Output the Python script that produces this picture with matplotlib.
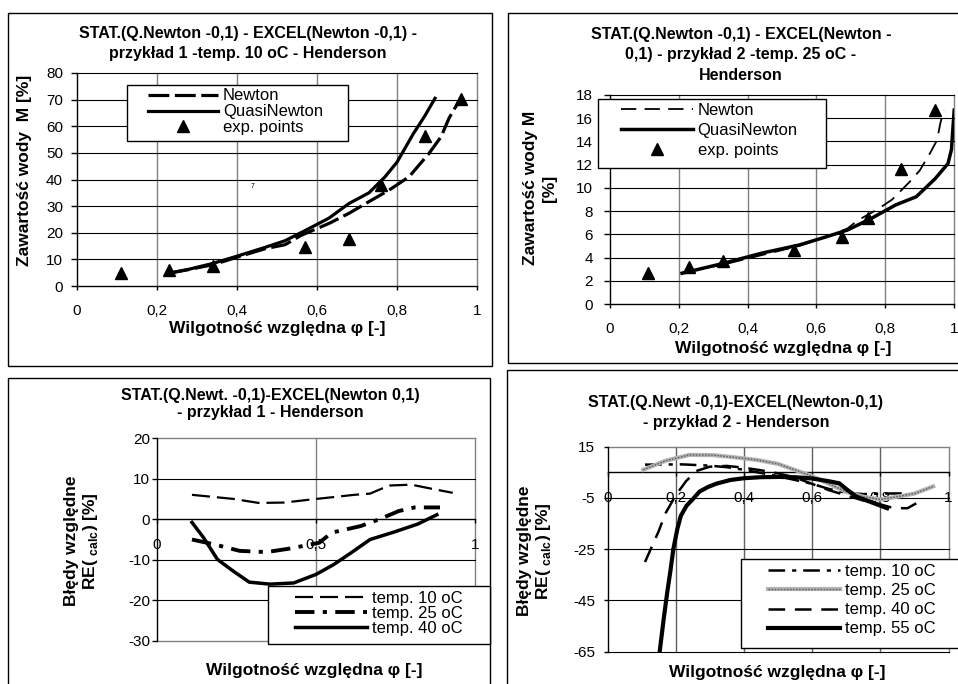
import matplotlib
matplotlib.use('Agg')
import matplotlib.pyplot as plt
from matplotlib.patches import Rectangle
from matplotlib.lines import Line2D
from matplotlib.legend_handler import HandlerTuple

plt.rcParams['font.family'] = ['Liberation Sans', 'DejaVu Sans']
plt.rcParams['mathtext.fontset'] = 'custom'
plt.rcParams['mathtext.rm'] = 'Liberation Sans'
plt.rcParams['lines.scale_dashes'] = False

# ---------------- data ----------------
# Panel 1: temp 10 oC, example 1
p1_exp_phi = [0.11, 0.23, 0.34, 0.57, 0.68, 0.76, 0.87, 0.96]
p1_exp_M = [4.8, 6.0, 7.6, 14.8, 17.5, 37.9, 56.5, 70.3]
p1_qn_phi = [0.23, 0.28, 0.34, 0.40, 0.47, 0.52, 0.57, 0.63, 0.68, 0.73, 0.77, 0.80, 0.84, 0.87, 0.895]
p1_qn_M = [4.8, 6.3, 8.5, 11.2, 14.5, 17.0, 20.8, 25.5, 31.0, 35.0, 41.0, 46.5, 57.0, 64.0, 70.5]
p1_nw_phi = [0.23, 0.28, 0.34, 0.40, 0.47, 0.52, 0.56, 0.63, 0.68, 0.73, 0.78, 0.83, 0.88, 0.91, 0.93, 0.955]
p1_nw_M = [4.8, 6.2, 8.0, 10.8, 14.0, 15.5, 19.0, 23.5, 27.3, 31.7, 36.0, 41.0, 49.8, 56.0, 63.0, 69.5]

# Panel 2: temp 25 oC, example 2
p2_exp_phi = [0.11, 0.23, 0.33, 0.535, 0.675, 0.75, 0.845, 0.945]
p2_exp_M = [2.64, 3.21, 3.73, 4.65, 5.74, 7.38, 11.6, 16.7]
p2_qn_phi = [0.21, 0.33, 0.44, 0.55, 0.63, 0.69, 0.76, 0.83, 0.89, 0.945, 0.982, 0.992, 1.0]
p2_qn_M = [2.65, 3.5, 4.37, 5.08, 5.8, 6.37, 7.38, 8.53, 9.24, 10.8, 12.1, 13.3, 16.7]
p2_nw_phi = [0.21, 0.33, 0.44, 0.55, 0.63, 0.69, 0.72, 0.78, 0.82, 0.87, 0.90, 0.93, 0.95, 0.96, 0.97]
p2_nw_M = [2.7, 3.4, 4.2, 5.0, 5.8, 6.5, 7.2, 8.2, 9.0, 10.5, 11.5, 13.0, 14.1, 15.6, 16.7]

# Panel 3: relative errors, example 1
p3_t10_phi = [0.11, 0.24, 0.32, 0.40, 0.49, 0.55, 0.62, 0.67, 0.73, 0.80, 0.87, 0.93]
p3_t10_re = [6.0, 5.0, 4.0, 4.1, 4.9, 5.4, 6.0, 6.3, 8.3, 8.5, 7.4, 6.5]
p3_t25_phi = [0.11, 0.18, 0.26, 0.345, 0.42, 0.51, 0.55, 0.64, 0.70, 0.76, 0.81, 0.89]
p3_t25_re = [-5.0, -6.2, -7.8, -8.1, -7.2, -5.8, -3.3, -1.7, 0.0, 2.0, 2.9, 2.9]
p3_t40_phi = [0.11, 0.146, 0.19, 0.24, 0.29, 0.355, 0.43, 0.50, 0.555, 0.61, 0.67, 0.74, 0.82, 0.88]
p3_t40_re = [-0.8, -4.5, -9.9, -12.8, -15.5, -16.0, -15.7, -13.6, -11.2, -8.3, -5.0, -3.3, -1.2, 1.1]

# Panel 4: relative errors, example 2
p4_t10_phi = [0.11, 0.22, 0.30, 0.35, 0.40, 0.50, 0.60, 0.65, 0.70, 0.75, 0.80, 0.88]
p4_t10_re = [8.0, 8.1, 7.6, 7.0, 6.0, 3.5, 0.5, -1.5, -3.0, -3.5, -3.3, -3.2]
p4_t25_phi = [0.105, 0.17, 0.24, 0.31, 0.37, 0.44, 0.50, 0.60, 0.70, 0.75, 0.80, 0.85, 0.90, 0.955]
p4_t25_re = [6.0, 9.5, 11.8, 11.7, 10.9, 9.8, 8.3, 3.5, -2.6, -4.5, -5.6, -4.5, -3.3, -0.5]
p4_t40_phi = [0.11, 0.15, 0.17, 0.20, 0.23, 0.26, 0.30, 0.35, 0.40, 0.45, 0.50, 0.55, 0.60, 0.65, 0.70, 0.75, 0.80, 0.84, 0.88, 0.92]
p4_t40_re = [-30, -18, -11, -4, 1.5, 5.5, 7.2, 7.5, 6.8, 5.8, 4.6, 3.0, 0.5, -2.0, -4.0, -6.0, -7.5, -9.0, -9.0, -6.0]
p4_t55_phi = [0.153, 0.165, 0.175, 0.185, 0.193, 0.205, 0.215, 0.232, 0.25, 0.27, 0.295, 0.32, 0.36, 0.40,
              0.45, 0.50, 0.55, 0.60, 0.65, 0.68, 0.70, 0.73, 0.77, 0.82]
p4_t55_re = [-65, -52, -42, -33, -25, -17, -12, -8, -5.5, -2.5, -0.7, 0.6, 2.0, 2.7,
             3.1, 3.2, 3.1, 2.6, 1.5, 0.7, -1.5, -4.5, -6.5, -9.0]

# tick definitions
t12_x = [0, 0.2, 0.4, 0.6, 0.8, 1.0]
t12_xl = ['0', '0,2', '0,4', '0,6', '0,8', '1']
t1_y = [0, 10, 20, 30, 40, 50, 60, 70, 80]
t2_y = [0, 2, 4, 6, 8, 10, 12, 14, 16, 18]
t3_x = [0, 0.5, 1.0]
t3_xl = ['0', '0,5', '1']
t3_y = [-30, -20, -10, 0, 10, 20]
t4_y = [-65, -45, -25, -5, 15]

titles = [
    "STAT.(Q.Newton -0,1) - EXCEL(Newton -0,1) -\nprzykład 1 -temp. 10 oC - Henderson",
    "STAT.(Q.Newton -0,1) - EXCEL(Newton -\n0,1) - przykład 2 -temp. 25 oC -\nHenderson",
    "STAT.(Q.Newt. -0,1)-EXCEL(Newton 0,1)\n- przykład 1 - Henderson",
    "STAT.(Q.Newt -0,1)-EXCEL(Newton-0,1)\n- przykład 2 - Henderson",
]
xlab = "Wilgotność względna φ [-]"
ylab_M1 = "Zawartość wody  M [%]"
ylab_M2 = "Zawartość wody M\n[%]"
ylab_RE = "Błędy względne\nRE( $_{\\mathregular{calc}}$) [%]"

TITLE_FS = 11.5
LABEL_FS = 12.5
TICK_FS = 11

# ---------------- figure ----------------
W, H = 958, 684
fig = plt.figure(figsize=(W / 100, H / 100), dpi=100)


def fx(x):
    return x / W


def fy(y):
    return 1 - y / H


def arect(x0, y0, x1, y1):
    return [x0 / W, 1 - y1 / H, (x1 - x0) / W, (y1 - y0) / H]


GRAY = '#808080'

# chart borders
for (x0, y0, x1, y1) in [(8, 13, 492, 366), (508, 13, 970, 363), (8, 378, 490, 700), (507, 370, 970, 700)]:
    fig.patches.append(Rectangle((x0 / W, 1 - y1 / H), (x1 - x0) / W, (y1 - y0) / H,
                                 transform=fig.transFigure, fill=False, edgecolor='black', lw=1.0, zorder=0))


def base_axes(rect, xlim, ylim, xt, xtl, yt, cross, ypad, ylen):
    ax = fig.add_axes(rect)
    ax.set_xlim(*xlim)
    ax.set_ylim(*ylim)
    ax.set_xticks(xt)
    ax.set_xticklabels(xtl)
    ax.set_yticks(yt)
    ax.set_yticklabels([str(v) for v in yt])
    for s in ['top', 'right']:
        ax.spines[s].set_visible(False)
    ax.spines['left'].set_color('black')
    ax.spines['bottom'].set_color('black')
    ax.spines['left'].set_linewidth(1.0)
    ax.spines['bottom'].set_linewidth(1.0)
    ax.spines['bottom'].set_position(('data', cross))
    ax.tick_params(axis='x', direction='out', length=3, width=1, pad=10.2, labelsize=TICK_FS)
    ax.tick_params(axis='y', direction='out', length=ylen, width=1, pad=ypad, labelsize=TICK_FS)
    return ax


def vline(ax, v, color=GRAY, lw=1.0):
    ax.axvline(v, color=color, lw=lw, zorder=0.5, clip_on=False)


def hline(ax, h, color='black', lw=0.8):
    ax.axhline(h, color=color, lw=lw, zorder=0.5, clip_on=False)


def add_legend(handles, labels, frame, handle_x, first_row_top, fs, lspace, hlen):
    x0, y0, x1, y1 = frame
    fig.patches.append(Rectangle((x0 / W, 1 - y1 / H), (x1 - x0) / W, (y1 - y0) / H,
                                 transform=fig.transFigure, facecolor='white', edgecolor='black',
                                 lw=1.0, zorder=3))
    lg = fig.legend(handles, labels, loc='upper left', bbox_to_anchor=(fx(handle_x), fy(first_row_top)),
                    frameon=False, borderpad=0, borderaxespad=0, fontsize=fs, labelspacing=lspace,
                    handlelength=hlen, handletextpad=0.3,
                    handler_map={tuple: HandlerTuple(ndivide=1, pad=0)})
    lg.set_zorder(4)
    return lg


# ---------------- panel 1 ----------------
ax1 = base_axes(arect(77, 73, 477, 286), (0, 1), (0, 80), t12_x, t12_xl, t1_y, 0, 6.0, 4)
for v in t12_x[1:]:
    vline(ax1, v)
for h in t1_y[1:]:
    hline(ax1, h)
l1n, = ax1.plot(p1_nw_phi, p1_nw_M, color='black', lw=2.3, dashes=(15, 4), zorder=3)
l1q, = ax1.plot(p1_qn_phi, p1_qn_M, color='black', lw=2.3, zorder=3)
l1e, = ax1.plot(p1_exp_phi, p1_exp_M, linestyle='none', marker='^', ms=9, color='black', zorder=4)
ax1.text(0.44, 37.2, '7', fontsize=5, ha='center', va='center')
fig.text(fx(248), fy(43.5), titles[0], ha='center', va='center', fontsize=TITLE_FS, fontweight='bold', linespacing=1.35)
fig.text(fx(25), fy(170), ylab_M1, ha='center', va='center', rotation=90, fontsize=LABEL_FS, fontweight='bold')
fig.text(fx(277), fy(328), xlab, ha='center', va='center', fontsize=LABEL_FS, fontweight='bold')
add_legend([l1n, l1q, l1e], ['Newton', 'QuasiNewton', 'exp. points'],
           (126.7, 85, 347.7, 140.7), 148, 88.5, 12, 0.05, 4.2)

# ---------------- panel 2 ----------------
ax2 = base_axes(arect(609.7, 95, 954.2, 304), (0, 1), (0, 18), t12_x, t12_xl, t2_y, 0, 8.0, 4)
for v in t12_x[1:]:
    vline(ax2, v)
for h in t2_y[1:]:
    hline(ax2, h)
l2n, = ax2.plot(p2_nw_phi, p2_nw_M, color='black', lw=1.3, dashes=(11, 6), zorder=3)
l2q, = ax2.plot(p2_qn_phi, p2_qn_M, color='black', lw=2.5, zorder=3)
l2e, = ax2.plot(p2_exp_phi, p2_exp_M, linestyle='none', marker='^', ms=9, color='black', zorder=4)
fig.text(fx(741), fy(55), titles[1], ha='center', va='center', fontsize=TITLE_FS, fontweight='bold', linespacing=1.5)
fig.text(fx(540), fy(188), ylab_M2, ha='center', va='center', rotation=90, fontsize=LABEL_FS, fontweight='bold', linespacing=1.35)
fig.text(fx(783), fy(348), xlab, ha='center', va='center', fontsize=LABEL_FS, fontweight='bold')
add_legend([l2n, l2q, l2e], ['Newton', 'QuasiNewton', 'exp. points'],
           (598, 99.3, 826.3, 168.3), 621, 103, 12, 0.3, 4.3)

# ---------------- panel 3 ----------------
ax3 = base_axes(arect(157, 438, 475, 641), (0, 1), (-30, 20), t3_x, t3_xl, t3_y, 0, 1.5, 3.6)
vline(ax3, 0.5)
vline(ax3, 1.0)
for h in [-20, -10, 10]:
    hline(ax3, h)
hline(ax3, 20, color=GRAY, lw=1.0)
hline(ax3, -30, color=GRAY, lw=1.0)
l3a, = ax3.plot(p3_t10_phi, p3_t10_re, color='black', lw=1.6, dashes=(13, 5), zorder=3)
l3b, = ax3.plot(p3_t25_phi, p3_t25_re, color='black', lw=2.8, dashes=(14, 6, 3, 6), zorder=3)
l3c, = ax3.plot(p3_t40_phi, p3_t40_re, color='black', lw=2.5, zorder=3)
fig.text(fx(270), fy(404), titles[2], ha='center', va='center', fontsize=TITLE_FS, fontweight='bold', linespacing=1.2)
fig.text(fx(82), fy(541), ylab_RE, ha='center', va='center', rotation=90, fontsize=LABEL_FS, fontweight='bold', linespacing=1.2)
fig.text(fx(314), fy(670), xlab, ha='center', va='center', fontsize=LABEL_FS, fontweight='bold')
add_legend([l3a, l3b, l3c], ['temp. 10 oC', 'temp. 25 oC', 'temp. 40 oC'],
           (268.3, 586, 490, 644), 295, 591, 12, 0.0, 4.3)

# ---------------- panel 4 ----------------
ax4 = base_axes(arect(607.5, 446.7, 948.5, 651.7), (0, 1), (-65, 15), t12_x, t12_xl, t4_y, 5, 6.0, 3)
for v in [0.2, 0.4, 0.6, 0.8]:
    vline(ax4, v, color='#606060')
vline(ax4, 1.0)
for h in [-65, -45, -25, -5]:
    hline(ax4, h)
hline(ax4, 15, color=GRAY, lw=1.0)
l4a, = ax4.plot(p4_t10_phi, p4_t10_re, color='black', lw=1.8, dashes=(12, 5, 3, 5), zorder=3)
l4b1, = ax4.plot(p4_t25_phi, p4_t25_re, color='#b4b4b4', lw=3.0, zorder=3)
l4b2, = ax4.plot(p4_t25_phi, p4_t25_re, color='#606060', lw=1.0, dashes=(1.2, 1.0), zorder=3)
l4c, = ax4.plot(p4_t40_phi, p4_t40_re, color='black', lw=1.8, dashes=(12, 7), zorder=3)
l4d, = ax4.plot(p4_t55_phi, p4_t55_re, color='black', lw=3.0, zorder=3)
fig.text(fx(736), fy(412.5), titles[3], ha='center', va='center', fontsize=TITLE_FS, fontweight='bold', linespacing=1.35)
fig.text(fx(535), fy(551), ylab_RE, ha='center', va='center', rotation=90, fontsize=LABEL_FS, fontweight='bold', linespacing=1.2)
fig.text(fx(777), fy(672), xlab, ha='center', va='center', fontsize=LABEL_FS, fontweight='bold')
add_legend([l4a, (l4b1, l4b2), l4c, l4d], ['temp. 10 oC', 'temp. 25 oC', 'temp. 40 oC', 'temp. 55 oC'],
           (740.7, 559.3, 970, 648.3), 768, 564, 12, 0.25, 4.3)

fig.savefig('out.png', dpi=100)
